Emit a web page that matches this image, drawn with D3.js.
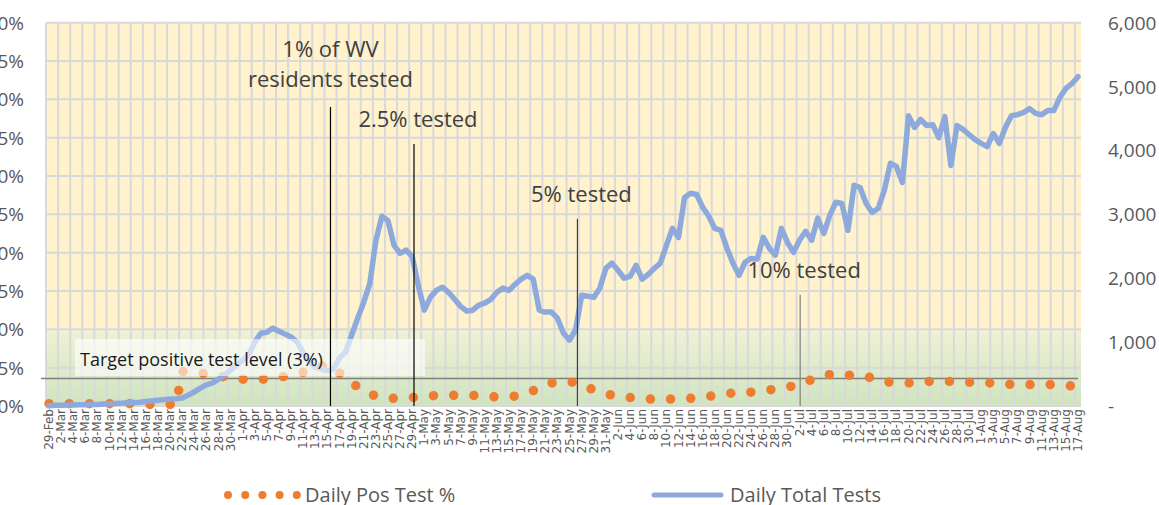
<!DOCTYPE html>
<html>
<head>
<meta charset="utf-8">
<script src="https://cdn.jsdelivr.net/npm/d3@7"></script>
<style>
  body { margin: 0; background: #fff; }
  svg { display: block; font-family: "Open Sans", sans-serif; }
</style>
</head>
<body>
<svg id="chart" width="1159" height="505"></svg>
<script>
// categories: every day from 29-Feb to 17-Aug (2020)
var fmt = d3.timeFormat('%-d-%b');
var dates = d3.timeDay.range(new Date(2020, 1, 29), new Date(2020, 7, 18)).map(fmt);

// daily total tests (right axis)
var totalTests = [
  5, 10, 10, 15, 15, 20, 20, 25, 25, 30, 35, 40, 45, 50, 55, 60, 70, 80, 90, 100,
  110, 115, 125, 170, 220, 280, 330, 360, 420, 485, 560, 640, 720, 800, 1000, 1140, 1155, 1220, 1170, 1125,
  1080, 1000, 830, 690, 610, 580, 550, 580, 750, 845, 1110, 1375, 1625, 1920, 2590, 2970, 2900, 2515, 2390, 2440,
  2340, 1890, 1500, 1700, 1810, 1860, 1780, 1670, 1560, 1485, 1500, 1580, 1610, 1670, 1780, 1845, 1810, 1905, 1985, 2045,
  1985, 1500, 1470, 1470, 1375, 1140, 1030, 1190, 1735, 1720, 1700, 1845, 2155, 2235, 2125, 2000, 2030, 2200, 1985, 2060,
  2155, 2235, 2515, 2780, 2640, 3265, 3330, 3310, 3110, 2970, 2780, 2750, 2470, 2235, 2045, 2250, 2310, 2300, 2640, 2470,
  2360, 2780, 2560, 2405, 2595, 2735, 2595, 2940, 2700, 2985, 3190, 3170, 2750, 3455, 3420, 3170, 3030, 3095, 3375, 3800,
  3750, 3500, 4545, 4360, 4485, 4390, 4405, 4200, 4530, 3765, 4390, 4330, 4250, 4170, 4110, 4060, 4265, 4110, 4360, 4545,
  4560, 4595, 4655, 4580, 4560, 4625, 4625, 4830, 4970, 5045, 5155
];

// daily positive test % (left axis)
var posPct = [
  0.3, 0.3, 0.3, 0.3, 0.3, 0.3, 0.3, 0.3, 0.3, 0.3, 0.3, 0.3, 0.3, 0.3, 0.3, 0.3, 0.2, 0.2, 0.2, 0.2,
  0.2, 0.2, 4.5, 4.5, 4.4, 4.3, 4.2, 4.0, 3.9, 3.8, 3.7, 3.6, 3.5, 3.5, 3.5, 3.5, 3.5, 3.6, 3.7, 3.9,
  4.0, 4.2, 4.4, 4.7, 5.0, 5.2, 5.3, 5.0, 4.3, 3.6, 3.0, 2.5, 2.0, 1.6, 1.3, 1.1, 1.0, 1.0, 1.0, 1.1,
  1.1, 1.2, 1.3, 1.3, 1.4, 1.4, 1.4, 1.4, 1.4, 1.4, 1.4, 1.3, 1.3, 1.2, 1.2, 1.2, 1.2, 1.3, 1.4, 1.7,
  2.0, 2.3, 2.7, 3.0, 3.1, 3.1, 3.1, 3.1, 2.8, 2.4, 2.1, 1.8, 1.6, 1.4, 1.3, 1.2, 1.1, 1.0, 1.0, 0.9,
  0.9, 0.9, 0.9, 0.9, 0.9, 1.0, 1.0, 1.1, 1.2, 1.3, 1.3, 1.5, 1.6, 1.7, 1.7, 1.8, 1.8, 1.9, 2.0, 2.1,
  2.2, 2.3, 2.5, 2.6, 2.9, 3.2, 3.4, 3.7, 3.9, 4.1, 4.2, 4.1, 4.0, 4.0, 3.9, 3.8, 3.7, 3.5, 3.2, 3.1,
  3.1, 3.0, 3.0, 3.0, 3.1, 3.2, 3.2, 3.2, 3.2, 3.2, 3.1, 3.1, 3.1, 3.1, 3.0, 3.0, 3.0, 2.9, 2.9, 2.8,
  2.8, 2.8, 2.8, 2.8, 2.8, 2.8, 2.8, 2.7, 2.7, 2.6, 2.6
];

var pctTicks = [0, 5, 10, 15, 20, 25, 30, 35, 40, 45, 50];
var testTicks = [0, 1000, 2000, 3000, 4000, 5000, 6000];

var targetLabel = 'Target positive test level (3%)';
var targetLine = 3.6;   // where the reference line sits on the % axis
var greenBandTop = 10;

// milestone markers: day index, label lines, top of line in tests-axis units
var milestones = [
  { day: 46.5, lines: ['1% of WV', 'residents tested'], top: 4680 },
  { day: 60.3, lines: ['2.5% tested'], top: 4100 },
  { day: 87.3, lines: ['5% tested'], top: 2930 },
  { day: 124.1, lines: ['10% tested'], top: 1740 }
];

var margin = { left: 46, right: 78, top: 22.7, bottom: 99 };
var W = 1159, H = 505;
var svg = d3.select('#chart');

var x = d3.scaleBand().domain(d3.range(dates.length)).range([margin.left, W - margin.right]).padding(0);
var bw = x.bandwidth();
var xi = function(i) { return margin.left + i * bw + bw / 2; };
var yL = d3.scaleLinear().domain([0, 50]).range([H - margin.bottom, margin.top]);
var yR = d3.scaleLinear().domain([0, 6000]).range([H - margin.bottom, margin.top]);

var defs = svg.append('defs');
var grad = defs.append('linearGradient').attr('id', 'greenBand').attr('x1', 0).attr('y1', 0).attr('x2', 0).attr('y2', 1);
grad.append('stop').attr('offset', '0%').attr('stop-color', '#f1f1d6');
grad.append('stop').attr('offset', '100%').attr('stop-color', '#cfe4bf');

// plot background
svg.append('rect')
  .attr('x', margin.left).attr('y', yL(50))
  .attr('width', W - margin.right - margin.left).attr('height', yL(0) - yL(50))
  .attr('fill', '#fff2cc');
svg.append('rect')
  .attr('x', margin.left).attr('y', yL(greenBandTop))
  .attr('width', W - margin.right - margin.left).attr('height', yL(0) - yL(greenBandTop))
  .attr('fill', 'url(#greenBand)');

// gridlines
var grid = svg.append('g').attr('stroke', '#d9d9d9').attr('stroke-width', 2);
grid.selectAll('.v').data(d3.range(0, dates.length, 2)).enter().append('line')
  .attr('x1', function(d) { return x(d); }).attr('x2', function(d) { return x(d); })
  .attr('y1', yL(50)).attr('y2', yL(0));
grid.selectAll('.h').data(pctTicks).enter().append('line')
  .attr('x1', margin.left).attr('x2', W - margin.right)
  .attr('y1', function(d) { return yL(d); }).attr('y2', function(d) { return yL(d); });

// target line
svg.append('line')
  .attr('x1', margin.left - 5).attr('x2', xi(dates.length - 1))
  .attr('y1', yL(targetLine)).attr('y2', yL(targetLine))
  .attr('stroke', '#7f7f7f').attr('stroke-width', 1.5);

// positive % as round dotted line
var linePct = d3.line().x(function(d, i) { return xi(i); }).y(function(d) { return yL(d); });
svg.append('path').datum(posPct)
  .attr('d', linePct)
  .attr('fill', 'none').attr('stroke', '#ed7d31').attr('stroke-width', 9.5)
  .attr('stroke-linecap', 'round').attr('stroke-dasharray', '0,20.2');

// total tests
var lineTests = d3.line().x(function(d, i) { return xi(i); }).y(function(d) { return yR(d); });
svg.append('path').datum(totalTests)
  .attr('d', lineTests)
  .attr('fill', 'none').attr('stroke', '#8eaadc').attr('stroke-width', 5.5)
  .attr('stroke-linejoin', 'round').attr('stroke-linecap', 'round');

// target label box
svg.append('rect')
  .attr('x', 75).attr('y', 339).attr('width', 350).attr('height', 37)
  .attr('fill', '#ffffff').attr('fill-opacity', 0.6);
svg.append('text')
  .attr('x', 80).attr('y', 366)
  .attr('font-size', 18).attr('fill', '#1a1a1a')
  .text(targetLabel);

// milestones
var ms = svg.selectAll('.ms').data(milestones).enter().append('g');
ms.append('line')
  .attr('x1', function(d) { return xi(d.day); }).attr('x2', function(d) { return xi(d.day); })
  .attr('y1', function(d) { return yR(d.top); }).attr('y2', yL(0))
  .attr('stroke', function(d, i) { return i < 2 ? '#000' : (i == 2 ? '#404040' : '#808080'); })
  .attr('stroke-width', 1.2);
ms.each(function(d) {
  var g = d3.select(this);
  var n = d.lines.length;
  d.lines.forEach(function(t, k) {
    g.append('text')
      .attr('x', xi(d.day) + (n == 1 ? 4 : 0))
      .attr('y', yR(d.top) - (n == 1 ? 17 : 20) - (n - 1 - k) * 30)
      .attr('text-anchor', 'middle')
      .attr('font-size', 22).attr('fill', '#404040')
      .text(t);
  });
});

// left axis labels
svg.selectAll('.yl').data(pctTicks).enter().append('text')
  .attr('x', 24).attr('y', function(d) { return yL(d) + 7; })
  .attr('text-anchor', 'end').attr('font-size', 19).attr('fill', '#595959')
  .text(function(d) { return d + '%'; });

// right axis labels
var commaFmt = d3.format(',');
svg.selectAll('.yr').data(testTicks).enter().append('text')
  .attr('x', 1108).attr('y', function(d) { return yR(d) + 7; })
  .attr('font-size', 19).attr('fill', '#595959')
  .text(function(d) { return d == 0 ? '-' : commaFmt(d); });

// x labels, every second day
svg.selectAll('.xl').data(d3.range(0, dates.length, 2)).enter().append('text')
  .attr('transform', function(d) { return 'translate(' + (xi(d) + 4) + ',' + 409 + ') rotate(-90)'; })
  .attr('text-anchor', 'end').attr('font-size', 12).attr('fill', '#595959')
  .attr('font-family', 'DejaVu Sans')
  .text(function(d) { return dates[d]; });

// legend
var leg = svg.append('g');
leg.append('line')
  .attr('x1', 228).attr('x2', 297).attr('y1', 495).attr('y2', 495)
  .attr('stroke', '#ed7d31').attr('stroke-width', 8)
  .attr('stroke-linecap', 'round').attr('stroke-dasharray', '0,17.2');
leg.append('text').attr('x', 305).attr('y', 502).attr('font-size', 20).attr('fill', '#595959').text('Daily Pos Test %');
leg.append('line')
  .attr('x1', 654).attr('x2', 721).attr('y1', 495).attr('y2', 495)
  .attr('stroke', '#8eaadc').attr('stroke-width', 5).attr('stroke-linecap', 'round');
leg.append('text').attr('x', 730).attr('y', 502).attr('font-size', 20).attr('fill', '#595959').text('Daily Total Tests');
</script>
</body>
</html>
